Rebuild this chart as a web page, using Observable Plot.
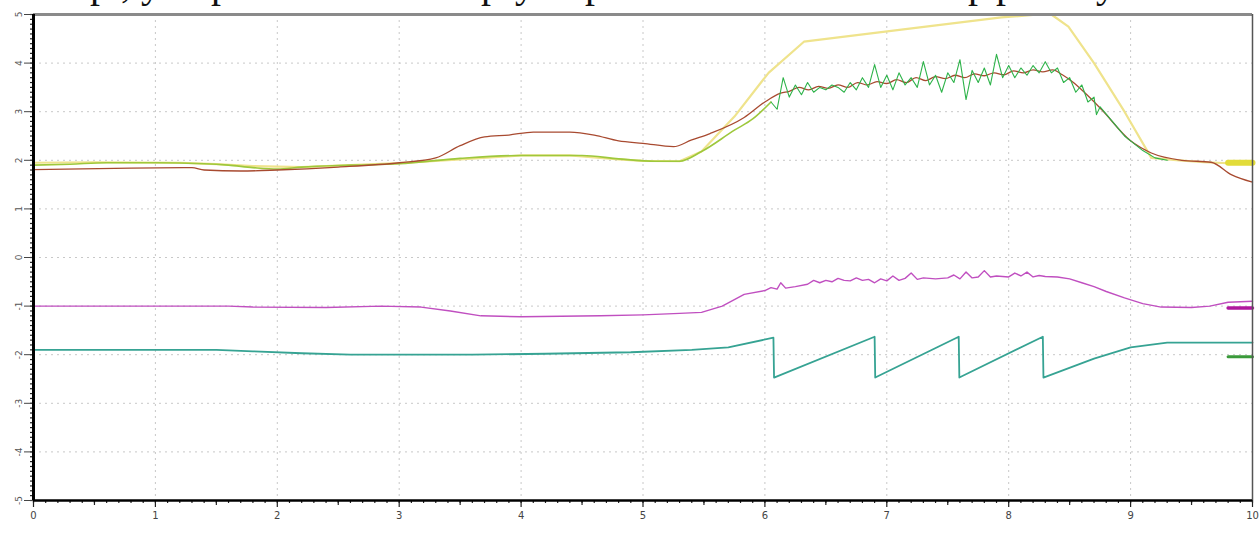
<!DOCTYPE html>
<html>
<head>
<meta charset="utf-8">
<script src="https://cdn.jsdelivr.net/npm/d3@7"></script>
<script src="https://cdn.jsdelivr.net/npm/@observablehq/plot@0.6"></script>
<style>
  html, body { margin: 0; padding: 0; background: #fff; }
  #wrap { position: relative; width: 1259px; height: 533px; overflow: hidden; }
  #cut { position: absolute; left: 0; top: 0; width: 1259px; height: 12px; overflow: hidden; font-family: "Liberation Serif", serif; font-size: 40px; line-height: 40px; color: #111; }
  #cut span { position: absolute; top: -36px; }
  #chart { position: absolute; left: 0; top: 0; }
</style>
</head>
<body>
<div id="wrap">
  <div id="chart"></div>
  <div id="cut"></div>
</div>
<script>
// ---- data ----
const xTicks = [0, 1, 2, 3, 4, 5, 6, 7, 8, 9, 10];
const yTicks = [-5, -4, -3, -2, -1, 0, 1, 2, 3, 4, 5];

// top cut-off line of document text (glyph, left px)
const cutGlyphs = [["р", 90], [",", 121], ["у", 141], ["р", 211], ["р", 481], ["у", 515], ["р", 585], ["р", 968], ["р", 996], ["у", 1096]];

const yellowX = [0, 0.5, 1.2, 1.5, 1.8, 2.2, 2.6, 3.0, 3.5, 4.0, 4.4, 4.8, 5.0, 5.3, 5.48, 5.75, 6.03, 6.32, 7.12, 7.94, 8.2, 8.35, 8.49, 8.7, 8.95, 9.17, 9.4, 9.6, 10];
const yellowY = [1.95, 1.96, 1.95, 1.92, 1.88, 1.86, 1.9, 1.94, 2.02, 2.1, 2.1, 2.02, 1.99, 1.98, 2.18, 2.9, 3.8, 4.44, 4.69, 4.94, 4.99, 5.0, 4.75, 4.0, 3.0, 2.05, 2.0, 1.96, 1.92];

const brownX = [0, 0.8, 1.3, 1.4, 1.7, 2.0, 2.5, 3.0, 3.3, 3.5, 3.7, 3.9, 4.1, 4.4, 4.6, 4.8, 5.0, 5.25, 5.4, 5.55, 5.83, 6.0, 6.13,
  6.2, 6.28, 6.36, 6.44, 6.52, 6.6, 6.68, 6.76, 6.84, 6.92, 7.0, 7.08, 7.16, 7.24, 7.32, 7.4, 7.48, 7.56, 7.64, 7.72, 7.8, 7.88, 7.96, 8.04, 8.12, 8.2, 8.28, 8.36, 8.44, 8.52,
  8.62, 8.76, 9.0, 9.17, 9.42, 9.66, 9.83, 10];
const brownY = [1.81, 1.84, 1.85, 1.8, 1.78, 1.8, 1.86, 1.95, 2.05, 2.3, 2.48, 2.52, 2.58, 2.58, 2.52, 2.4, 2.35, 2.28, 2.42, 2.55, 2.88, 3.2, 3.38,
  3.42, 3.5, 3.45, 3.52, 3.48, 3.55, 3.5, 3.6, 3.55, 3.62, 3.58, 3.66, 3.6, 3.7, 3.64, 3.72, 3.68, 3.75, 3.7, 3.78, 3.74, 3.8, 3.76, 3.84, 3.8, 3.86, 3.82, 3.86, 3.76, 3.62,
  3.4, 3.05, 2.4, 2.15, 2.0, 1.96, 1.7, 1.55];

const greenLeadX = [0, 0.3, 0.6, 1.0, 1.4, 1.6, 1.8, 2.0, 2.2, 2.6, 3.0, 3.5, 4.0, 4.5, 4.8, 5.1, 5.3, 5.48, 5.75, 5.9, 6.05];
const greenLeadY = [1.9, 1.92, 1.95, 1.95, 1.93, 1.9, 1.85, 1.82, 1.86, 1.9, 1.93, 2.04, 2.1, 2.1, 2.03, 1.98, 1.98, 2.18, 2.62, 2.85, 3.2];

const greenX = [6.05, 6.10, 6.15, 6.20, 6.25, 6.30, 6.35, 6.40, 6.45, 6.50, 6.55, 6.60, 6.65, 6.70, 6.75, 6.80, 6.85, 6.90, 6.95, 7.00,
  7.05, 7.10, 7.15, 7.20, 7.25, 7.30, 7.35, 7.40, 7.45, 7.50, 7.55, 7.60, 7.65, 7.70, 7.75, 7.80, 7.85, 7.90, 7.95, 8.00,
  8.05, 8.10, 8.15, 8.20, 8.25, 8.30, 8.35, 8.40, 8.45, 8.50, 8.55, 8.60, 8.65, 8.70, 8.72, 8.75, 8.80, 8.85, 8.90, 8.95, 9.0, 9.1, 9.2, 9.3];
const greenY = [3.2, 3.05, 3.7, 3.3, 3.55, 3.35, 3.6, 3.4, 3.5, 3.45, 3.55, 3.5, 3.4, 3.6, 3.45, 3.7, 3.5, 3.97, 3.5, 3.75,
  3.45, 3.8, 3.55, 3.7, 3.5, 4.03, 3.55, 3.75, 3.4, 3.8, 3.6, 4.07, 3.25, 3.85, 3.6, 3.9, 3.55, 4.18, 3.7, 3.95,
  3.7, 3.9, 3.75, 3.95, 3.8, 4.03, 3.8, 3.9, 3.6, 3.7, 3.4, 3.55, 3.2, 3.3, 2.94, 3.1, 2.95, 2.8, 2.65, 2.5, 2.4, 2.2, 2.05, 2.0];

const magentaX = [0, 1.6, 1.8, 2.4, 2.85, 3.18, 3.42, 3.67, 4.0, 4.65, 5.0, 5.3, 5.48, 5.65, 5.83, 6.0,
  6.05, 6.1, 6.13, 6.17, 6.25, 6.35, 6.4, 6.45, 6.5, 6.55, 6.6, 6.65, 6.7, 6.75, 6.8, 6.85, 6.9, 6.95, 7.0, 7.05, 7.1, 7.15, 7.2, 7.25, 7.3,
  7.4, 7.5, 7.55, 7.6, 7.65, 7.7, 7.75, 7.8, 7.85, 7.9, 8.0, 8.05, 8.1, 8.15, 8.2, 8.25, 8.3, 8.4, 8.5, 8.6, 8.7, 8.8, 8.95, 9.1, 9.25, 9.5, 9.65, 9.8, 10];
const magentaY = [-1.0, -1.0, -1.02, -1.03, -1.0, -1.02, -1.1, -1.2, -1.22, -1.2, -1.18, -1.15, -1.13, -1.0, -0.76, -0.68,
  -0.62, -0.65, -0.52, -0.63, -0.6, -0.55, -0.47, -0.52, -0.47, -0.5, -0.43, -0.47, -0.48, -0.42, -0.47, -0.45, -0.52, -0.44, -0.48, -0.38, -0.47, -0.43, -0.32, -0.45, -0.42,
  -0.44, -0.42, -0.36, -0.44, -0.3, -0.42, -0.4, -0.27, -0.4, -0.38, -0.4, -0.32, -0.38, -0.3, -0.4, -0.37, -0.39, -0.4, -0.44, -0.52, -0.6, -0.7, -0.83, -0.95, -1.02, -1.03, -1.0, -0.92, -0.9];

const tealX = [0, 1.5, 1.8, 2.2, 2.6, 3.6, 4.2, 4.9, 5.4, 5.7, 6.07, 6.075, 6.9, 6.905, 7.59, 7.595, 8.28, 8.285, 8.7, 9.0, 9.3, 10];
const tealY = [-1.9, -1.9, -1.93, -1.97, -2.0, -2.0, -1.98, -1.95, -1.9, -1.85, -1.65, -2.47, -1.63, -2.47, -1.63, -2.47, -1.63, -2.47, -2.08, -1.85, -1.75, -1.75];

// short end markers at the right edge
const endX = [9.8, 10];
const yellowEndY = [1.95, 1.95];
const magentaEndY = [-1.04, -1.04];
const greenEndY = [-2.04, -2.04];

// ---- build ----
const pts = (xs, ys) => xs.map((x, i) => ({x, y: ys[i]}));
const minorX = d3.range(0, 10.001, 0.1).map(v => +v.toFixed(2));
const minorY = d3.range(-5, 5.001, 0.1).map(v => +v.toFixed(2));
const halfX = d3.range(0.5, 10, 1);
const gridX = xTicks.filter(v => v > 0 && v < 10);
const gridY = yTicks.filter(v => v > -5 && v < 5);
const blank = () => "";
const intFmt = d => String(d);

const chart = Plot.plot({
  width: 1259,
  height: 533,
  marginLeft: 33,
  marginRight: 7,
  marginTop: 14,
  marginBottom: 33,
  style: {fontFamily: "DejaVu Sans, sans-serif", background: "#fff"},
  x: {domain: [0, 10], label: null},
  y: {domain: [-5, 5], label: null},
  marks: [
    Plot.ruleX(gridX, {stroke: "#c8c8c8", strokeWidth: 1, strokeDasharray: "2,4"}),
    Plot.ruleY(gridY, {stroke: "#c8c8c8", strokeWidth: 1, strokeDasharray: "2,4"}),
    Plot.line(pts(yellowX, yellowY), {x: "x", y: "y", stroke: "#efe38c", strokeWidth: 2.2}),
    Plot.line(pts(greenLeadX, greenLeadY), {x: "x", y: "y", stroke: "#9ec83c", strokeWidth: 1.6, curve: "monotone-x"}),
    Plot.line(pts(brownX, brownY), {x: "x", y: "y", stroke: "#a84a30", strokeWidth: 1.3, curve: "monotone-x"}),
    Plot.line(pts(greenX, greenY), {x: "x", y: "y", stroke: "#2eb34a", strokeWidth: 1.1}),
    Plot.line(pts(magentaX, magentaY), {x: "x", y: "y", stroke: "#c04fc0", strokeWidth: 1.4}),
    Plot.line(pts(tealX, tealY), {x: "x", y: "y", stroke: "#36a393", strokeWidth: 1.8}),
    Plot.line(pts(endX, yellowEndY), {x: "x", y: "y", stroke: "#e2dc3a", strokeWidth: 6}),
    Plot.line(pts(endX, magentaEndY), {x: "x", y: "y", stroke: "#b0179e", strokeWidth: 3.5}),
    Plot.line(pts(endX, greenEndY), {x: "x", y: "y", stroke: "#3a9a3a", strokeWidth: 3}),
    // frame
    Plot.ruleY([5], {stroke: "#8a8a8a", strokeWidth: 3}),
    Plot.ruleX([10], {stroke: "#555", strokeWidth: 1.5}),
    // axes
    Plot.axisX(minorX, {tickSize: 3, tickFormat: blank, stroke: "#222", strokeWidth: 1.2, label: null}),
    Plot.axisX(halfX, {tickSize: 5, tickFormat: blank, stroke: "#222", strokeWidth: 1.2, label: null}),
    Plot.axisX(xTicks, {tickSize: 7, tickPadding: 4, fontSize: 10, fill: "#444", stroke: "#222", strokeWidth: 1.2, tickFormat: intFmt, label: null}),
    Plot.axisY(minorY, {tickSize: 3, tickFormat: blank, stroke: "#222", strokeWidth: 1.2, label: null}),
    Plot.axisY(yTicks, {tickSize: 9, tickPadding: 3, fontSize: 9, fill: "#555", stroke: "#444", strokeWidth: 1, tickRotate: -90, tickFormat: intFmt, label: null}),
    Plot.ruleX([0], {stroke: "#000", strokeWidth: 3}),
    Plot.ruleY([-5], {stroke: "#000", strokeWidth: 2.5})
  ]
});
document.getElementById("chart").appendChild(chart);

const cut = document.getElementById("cut");
for (const [g, left] of cutGlyphs) {
  const s = document.createElement("span");
  s.textContent = g;
  s.style.left = left + "px";
  cut.appendChild(s);
}
</script>
</body>
</html>
